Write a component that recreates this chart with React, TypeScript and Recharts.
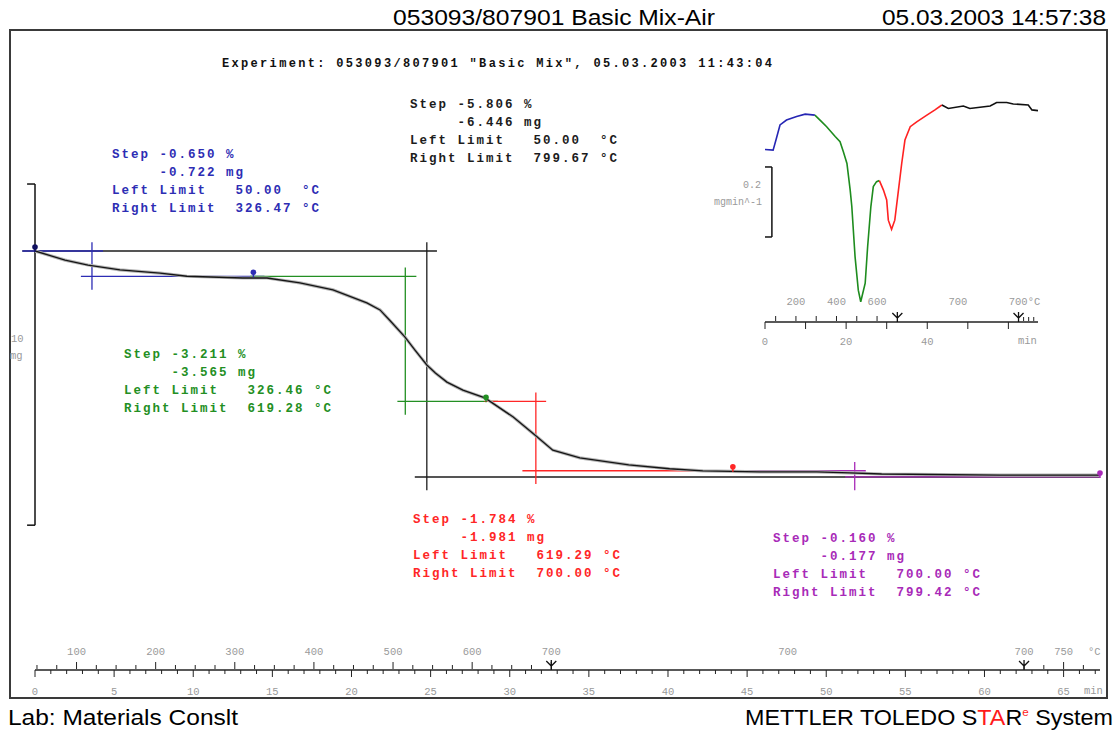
import React from "react"
import { LineChart, Line, XAxis, YAxis, ReferenceLine, ReferenceDot } from "recharts"

// TG curve (time in min, mass in mg)
const tgTime = [0, 1.9, 3.35, 5.37, 7.9, 9.6, 13.14, 14.66, 16.74, 18.83, 20.97, 21.8, 22.4, 23.37, 24.0, 24.76, 25.3, 26.03, 27.04, 28.43, 30.2, 31.59, 32.72, 34.43, 37.52, 40.1, 42.2, 45.8, 49.4, 51.48, 53.5, 60.96, 67.3]
const tgMass = [111.02, 110.76, 110.62, 110.48, 110.39, 110.3, 110.25, 110.25, 110.11, 109.91, 109.54, 109.34, 109.05, 108.57, 108.2, 107.77, 107.54, 107.28, 107.05, 106.83, 106.29, 105.77, 105.34, 105.12, 104.92, 104.81, 104.75, 104.72, 104.72, 104.69, 104.66, 104.63, 104.63]

// DTG inset (time in min, rate in mg/min)
const dtgTime = [0, 2.0, 2.7, 3.7, 5.3, 7.8, 9.9, 12.3, 14.0, 15.2, 17.3, 18.5, 19.3, 20.2, 21.0, 21.4, 22.2, 23.0, 23.6, 24.7, 25.3, 26.1, 26.7, 27.5, 28.2, 29.2, 30.0, 30.4, 31.2, 32.0, 32.9, 33.7, 34.5, 35.8, 37.4, 39.9, 41.9, 43.6, 45.2, 48.9, 50.5, 55.5, 57.1, 59.6, 61.2, 64.9, 65.8, 67.3]
const dtgRate = [-0.127, -0.129, -0.1, -0.057, -0.043, -0.033, -0.026, -0.029, -0.048, -0.062, -0.09, -0.105, -0.133, -0.167, -0.243, -0.29, -0.433, -0.529, -0.562, -0.509, -0.405, -0.29, -0.233, -0.219, -0.216, -0.243, -0.271, -0.329, -0.355, -0.329, -0.243, -0.167, -0.1, -0.062, -0.048, -0.029, -0.014, 0, -0.01, -0.003, -0.01, -0.003, 0.007, 0.007, 0.003, 0, -0.014, -0.016]
const dtgBreaks = [12.3, 28.2, 43.6]
const dtgColors = ["#2626b4", "#1e8c1e", "#ff2222", "#111111"]

// temperature program (min -> °C)
const progTime = [0, 32.625, 62.5, 67.3]
const progTemp = [47.5, 700, 700, 796]

// evaluated steps: blue, green, red, purple, total
const startMass = 111.02
const stepColors = ["#2d2db4", "#238f23", "#ff2626", "#a82ab8", "#1c1c1c"]
const stepTo = [13.8, 28.5, 44.1, 67.3, 67.3]
const stepMid = [3.6, 23.4, 31.65, 51.8, 24.76]
const stepLossMg = [0.722, 3.565, 1.981, 0.177, 6.446]
const stepLossPct = ["-0.650", "-3.211", "-1.784", "-0.160", "-5.806"]
const stepLeft = ["50.00", "326.46", "619.29", "700.00", "50.00"]
const stepRight = ["326.47", "619.28", "700.00", "799.42", "799.67"]
const stepTopLine = [[-0.8, 4.3], [13.6, 24.1], [28.4, 32.3], [44.3, 52.5], [-0.8, 25.4]]
const stepBottomLine = [[2.9, 14.5], [22.9, 29.25], [30.8, 44.2], [51.2, 67.3], [24.0, 67.3]]
const stepTextPos = [[112, 158], [124, 358], [413, 523], [773, 542], [410, 108]]

const scaleBarMass = [112.93, 103.2] // "10 mg" bracket
const scaleBarRate = [-0.177, -0.377] // "0.2 mgmin^-1" bracket

const T_MAX = 67.3
const MASS_DOMAIN = [99.098, 117.323]
const RATE_DOMAIN = [-0.617, 0.0286]

const minuteTicks = Array.from({ length: 68 }, (_, i) => i)
const insetMinuteTicks = [0, 10, 20, 30, 40, 50, 60]
const insetTimeLabels = [0, 20, 40]

const MONO = "'Liberation Mono', 'Courier New', monospace"
const SANS = "'Liberation Sans', Arial, sans-serif"
const GREY = "#9a9a9a"

function timeAtTemp(T: number, seg: number) {
  const t0 = progTime[seg], t1 = progTime[seg + 1]
  const T0 = progTemp[seg], T1 = progTemp[seg + 1]
  return t0 + ((T - T0) / (T1 - T0)) * (t1 - t0)
}

type TTick = { t: number; len: number; label?: string; arrow?: boolean; dx?: number }

const mainTempTicks: TTick[] = []
for (let T = 50; T <= 700; T += 25) {
  const major = T % 100 === 0
  mainTempTicks.push({ t: timeAtTemp(T, 0), len: major ? 7 : 4, label: major ? String(T) : undefined, arrow: T === 700 })
}
mainTempTicks.push({ t: (progTime[1] + progTime[2]) / 2, len: 0, label: "700" })
for (let T = 700; T <= 775; T += 25) {
  mainTempTicks.push({ t: timeAtTemp(T, 2), len: T === 750 ? 7 : 4, label: T === 700 || T === 750 ? String(T) : undefined, arrow: T === 700 })
}

const insetTempTicks: TTick[] = []
for (let T = 100; T <= 700; T += 100) {
  insetTempTicks.push({ t: timeAtTemp(T, 0), len: T === 700 ? 0 : 5, label: T % 200 === 0 && T < 700 ? String(T) : undefined, arrow: T === 700 })
}
insetTempTicks.push({ t: (progTime[1] + progTime[2]) / 2, len: 0, label: "700" })
for (let T = 700; T <= 775; T += 25) {
  insetTempTicks.push({ t: timeAtTemp(T, 2), len: T === 700 ? 0 : 4, label: T === 700 ? "700°C" : undefined, arrow: T === 700, dx: 6 })
}

const tgData = tgTime.map((t, i) => ({ t, m: tgMass[i] }))
const dtgAll = dtgTime.map((t, i) => ({ t, v: dtgRate[i] }))
const dtgSegments = dtgColors.map((_, k) => {
  const lo = k === 0 ? -Infinity : dtgBreaks[k - 1]
  const hi = k === dtgColors.length - 1 ? Infinity : dtgBreaks[k]
  return dtgAll.filter((p) => p.t >= lo && p.t <= hi)
})

function stepLevels(i: number) {
  if (i === 4) return [startMass, startMass - stepLossMg[4]]
  const before = stepLossMg.slice(0, i).reduce((a, b) => a + b, 0)
  return [startMass - before, startMass - before - stepLossMg[i]]
}

const tempTick = (list: TTick[], labelDy: number) => (props: any) => {
  const { x, y, index } = props
  const d = list[index]
  if (!d) return <g />
  return (
    <g>
      {d.len > 0 && <line x1={x} x2={x} y1={y} y2={y - d.len} stroke="#222" />}
      {d.arrow && (
        <path d={`M${x - 5},${y - 8} L${x},${y - 3} L${x + 5},${y - 8} M${x},${y - 9} L${x},${y + 1}`} stroke="#111" fill="none" strokeWidth={1.3} />
      )}
      {d.label && (
        <text x={x + (d.dx || 0)} y={y - labelDy} textAnchor="middle" fontFamily={MONO} fontSize={10.5} fill={GREY}>
          {d.label}
        </text>
      )}
    </g>
  )
}

const timeTick = (majorEvery: number, labels: number[] | null, labelDy: number) => (props: any) => {
  const { x, y, payload } = props
  const v = payload.value
  const major = v % majorEvery === 0
  const showLabel = labels ? labels.includes(v) : major
  return (
    <g>
      <line x1={x} x2={x} y1={y} y2={y + (major ? 7 : 4)} stroke="#222" />
      {showLabel && (
        <text x={x} y={y + labelDy} textAnchor="middle" fontFamily={MONO} fontSize={10.5} fill={GREY}>
          {v}
        </text>
      )}
    </g>
  )
}

const Pin = (props: any) => {
  const { cx, cy, fill } = props
  return (
    <g>
      <line x1={cx} x2={cx} y1={cy - 4} y2={cy + 1} stroke={fill} strokeWidth={1.5} />
      <circle cx={cx} cy={cy - 4} r={2.8} fill={fill} />
    </g>
  )
}

function StepText({ i }: { i: number }) {
  const [x, y] = stepTextPos[i]
  const lines = [
    `Step ${stepLossPct[i]} %`,
    `     -${stepLossMg[i].toFixed(3)} mg`,
    `Left Limit   ${stepLeft[i].padEnd(7)}°C`,
    `Right Limit  ${stepRight[i].padEnd(7)}°C`,
  ]
  return (
    <g>
      {lines.map((s, k) => (
        <text key={k} x={x} y={y + k * 18} fontFamily={MONO} fontWeight="bold" fontSize={12.5} letterSpacing={2} fill={stepColors[i]} xmlSpace="preserve" style={{ whiteSpace: "pre" }}>
          {s}
        </text>
      ))}
    </g>
  )
}

const axisIds = { xAxisId: "time", yAxisId: "m" }
const insetIds = { xAxisId: "time", yAxisId: "r" }

export default function App() {
  const order = [4, 0, 1, 2, 3]
  return (
    <div style={{ position: "relative", width: 1114, height: 730, background: "#fff" }}>
      <style>{"body{margin:0}"}</style>
      <svg width={1114} height={730} style={{ position: "absolute", left: 0, top: 0 }}>
        <rect x={10} y={30} width={1097} height={668} fill="none" stroke="#3a3a3a" strokeWidth={2} />
      </svg>

      <div style={{ position: "absolute", left: 0, top: 0 }}>
        <LineChart width={1114} height={730} data={tgData} margin={{ top: 30, right: 14, bottom: 59, left: 35 }}>
          <XAxis xAxisId="temp" type="number" dataKey="t" domain={[0, T_MAX]} allowDataOverflow ticks={mainTempTicks.map((d) => d.t)} interval={0} tick={tempTick(mainTempTicks, 14)} tickLine={false} axisLine={false} height={1} tickSize={0} tickMargin={0} />
          <XAxis xAxisId="time" type="number" dataKey="t" domain={[0, T_MAX]} allowDataOverflow ticks={minuteTicks} interval={0} tick={timeTick(5, null, 25)} tickLine={false} axisLine={{ stroke: "#222", strokeWidth: 1.5 }} height={1} tickSize={0} tickMargin={0} />
          <YAxis yAxisId="m" type="number" hide width={0} domain={MASS_DOMAIN} allowDataOverflow />

          {/* 10 mg scale bar */}
          <ReferenceLine {...axisIds} ifOverflow="visible" stroke="#111" strokeWidth={1.5} segment={[{ x: 0, y: scaleBarMass[0] }, { x: 0, y: scaleBarMass[1] }]} />
          <ReferenceLine {...axisIds} ifOverflow="visible" stroke="#111" strokeWidth={1.5} segment={[{ x: -0.5, y: scaleBarMass[0] }, { x: 0, y: scaleBarMass[0] }]} />
          <ReferenceLine {...axisIds} ifOverflow="visible" stroke="#111" strokeWidth={1.5} segment={[{ x: -0.5, y: scaleBarMass[1] }, { x: 0, y: scaleBarMass[1] }]} />

          {order.map((i) => {
            const [hi, lo] = stepLevels(i)
            const c = stepColors[i]
            return [
              <ReferenceLine key={`t${i}`} {...axisIds} ifOverflow="visible" stroke={c} strokeWidth={1.3} segment={[{ x: stepTopLine[i][0], y: hi }, { x: stepTopLine[i][1], y: hi }]} />,
              <ReferenceLine key={`b${i}`} {...axisIds} ifOverflow="visible" stroke={c} strokeWidth={1.3} segment={[{ x: stepBottomLine[i][0], y: lo }, { x: stepBottomLine[i][1], y: lo }]} />,
              <ReferenceLine key={`v${i}`} {...axisIds} ifOverflow="visible" stroke={c} strokeWidth={1.3} segment={[{ x: stepMid[i], y: hi + 0.25 }, { x: stepMid[i], y: lo - 0.38 }]} />,
            ]
          })}

          <Line {...axisIds} type="linear" dataKey="m" stroke="#b4b4b4" strokeWidth={3.2} dot={false} isAnimationActive={false} />
          <Line {...axisIds} type="linear" dataKey="m" stroke="#151515" strokeWidth={1.3} dot={false} isAnimationActive={false} />

          <ReferenceDot {...axisIds} ifOverflow="visible" x={0} y={startMass} r={3} fill="#101060" shape={Pin} />
          {[0, 1, 2, 3].map((i) => (
            <ReferenceDot key={`p${i}`} {...axisIds} ifOverflow="visible" x={stepTo[i]} y={stepLevels(i)[1]} r={3} fill={stepColors[i]} shape={Pin} />
          ))}
        </LineChart>
      </div>

      <div style={{ position: "absolute", left: 0, top: 0 }}>
        <LineChart width={1114} height={730} margin={{ top: 95, right: 76, bottom: 407, left: 765 }}>
          <XAxis xAxisId="temp" type="number" dataKey="t" domain={[0, T_MAX]} allowDataOverflow ticks={insetTempTicks.map((d) => d.t)} interval={0} tick={tempTick(insetTempTicks, 16)} tickLine={false} axisLine={false} height={1} tickSize={0} tickMargin={0} />
          <XAxis xAxisId="time" type="number" dataKey="t" domain={[0, T_MAX]} allowDataOverflow ticks={insetMinuteTicks} interval={0} tick={timeTick(10, insetTimeLabels, 23)} tickLine={false} axisLine={{ stroke: "#222", strokeWidth: 1.5 }} height={1} tickSize={0} tickMargin={0} />
          <YAxis yAxisId="r" type="number" hide width={0} domain={RATE_DOMAIN} allowDataOverflow />

          <ReferenceLine {...insetIds} ifOverflow="visible" stroke="#111" strokeWidth={1.5} segment={[{ x: 1.7, y: scaleBarRate[0] }, { x: 1.7, y: scaleBarRate[1] }]} />
          <ReferenceLine {...insetIds} ifOverflow="visible" stroke="#111" strokeWidth={1.5} segment={[{ x: 0, y: scaleBarRate[0] }, { x: 1.7, y: scaleBarRate[0] }]} />
          <ReferenceLine {...insetIds} ifOverflow="visible" stroke="#111" strokeWidth={1.5} segment={[{ x: 0, y: scaleBarRate[1] }, { x: 1.7, y: scaleBarRate[1] }]} />

          {dtgSegments.map((seg, k) => (
            <Line key={k} {...insetIds} data={seg} type="linear" dataKey="v" stroke={dtgColors[k]} strokeWidth={1.6} dot={false} isAnimationActive={false} />
          ))}
        </LineChart>
      </div>

      <svg width={1114} height={730} style={{ position: "absolute", left: 0, top: 0, pointerEvents: "none" }}>
        <text x={393} y={25} fontFamily={SANS} fontSize={22} textLength={322} lengthAdjust="spacingAndGlyphs">053093/807901 Basic Mix-Air</text>
        <text x={882} y={25} fontFamily={SANS} fontSize={22} textLength={224} lengthAdjust="spacingAndGlyphs">05.03.2003 14:57:38</text>
        <text x={222} y={67} fontFamily={MONO} fontWeight="bold" fontSize={12} textLength={550} lengthAdjust="spacing" fill="#111">
          Experiment: 053093/807901 "Basic Mix", 05.03.2003 11:43:04
        </text>

        {[0, 1, 2, 3, 4].map((i) => (
          <StepText key={i} i={i} />
        ))}

        <text x={11} y={342} fontFamily={MONO} fontSize={10.5} fill={GREY}>10</text>
        <text x={10} y={359} fontFamily={MONO} fontSize={10.5} fill={GREY}>mg</text>
        <text x={1088} y={655} fontFamily={MONO} fontSize={10.5} fill={GREY}>°C</text>
        <text x={1084} y={694} fontFamily={MONO} fontSize={10.5} fill={GREY}>min</text>

        <text x={761} y={188} textAnchor="end" fontFamily={MONO} fontSize={10} fill={GREY}>0.2</text>
        <text x={762} y={205} textAnchor="end" fontFamily={MONO} fontSize={10} fill={GREY}>mgmin^-1</text>
        <text x={1018} y={344} fontFamily={MONO} fontSize={10.5} fill={GREY}>min</text>

        <text x={8} y={725} fontFamily={SANS} fontSize={22} textLength={230} lengthAdjust="spacingAndGlyphs">Lab: Materials Conslt</text>
        <text x={745} y={725} fontFamily={SANS} fontSize={22} textLength={368} lengthAdjust="spacingAndGlyphs">
          METTLER TOLEDO S<tspan fill="#ff1a1a">TA</tspan>R<tspan fill="#ff1a1a" fontSize={11} dy={-9}>e</tspan>
          <tspan dy={9}> System</tspan>
        </text>
      </svg>
    </div>
  )
}
